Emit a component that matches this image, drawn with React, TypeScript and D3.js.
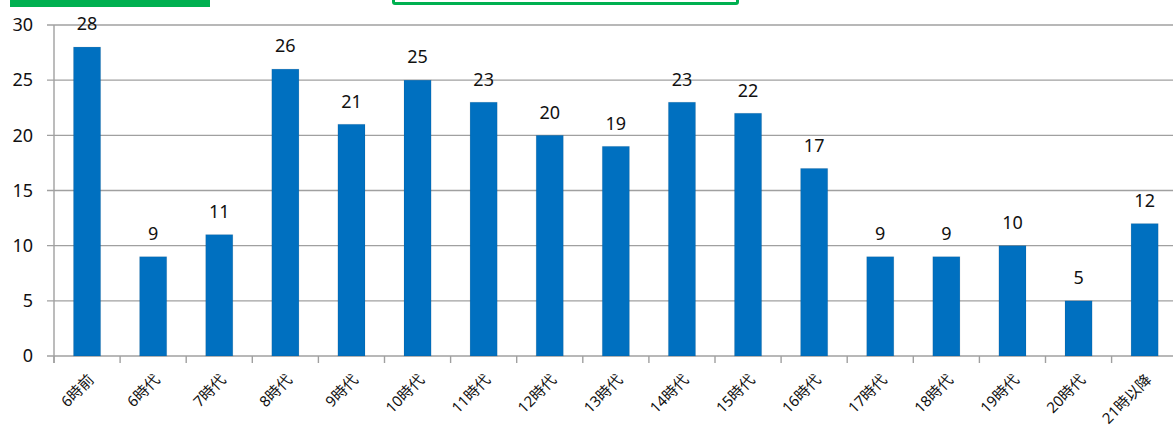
import React, { useEffect, useRef } from 'react';
import * as d3 from 'd3';

const categories = [
  '6時前', '6時代', '7時代', '8時代', '9時代', '10時代', '11時代', '12時代', '13時代',
  '14時代', '15時代', '16時代', '17時代', '18時代', '19時代', '20時代', '21時以降',
];
const values = [28, 9, 11, 26, 21, 25, 23, 20, 19, 23, 22, 17, 9, 9, 10, 5, 12];
const yTicks = [0, 5, 10, 15, 20, 25, 30];

const FONT = '"Noto Sans", "Noto Sans CJK JP", sans-serif';

export default function App() {
  const svgRef = useRef<SVGSVGElement>(null);

  useEffect(() => {
    if (!svgRef.current) return;
    const width = 1173;
    const left = 54;
    const top = 25;
    const bottom = 356;
    const step = 66.1;

    const svg = d3.select(svgRef.current);
    svg.selectAll('*').remove();

    const x = d3.scaleBand<string>()
      .domain(categories)
      .range([left, left + step * categories.length])
      .paddingInner(0.59)
      .paddingOuter(0.295);

    const y = d3.scaleLinear().domain([0, 30]).range([bottom, top]);

    // partial legend/title boxes cut off at top
    svg.append('rect').attr('x', 10).attr('y', -2).attr('width', 200).attr('height', 9).attr('fill', '#00B050');
    svg.append('rect').attr('x', 393.5).attr('y', -10).attr('width', 344).attr('height', 13.5)
      .attr('fill', 'none').attr('stroke', '#00B050').attr('stroke-width', 3).attr('rx', 1.5);

    // gridlines
    svg.append('g').selectAll('line')
      .data(yTicks)
      .enter()
      .append('line')
      .attr('x1', left - 7)
      .attr('x2', width)
      .attr('y1', d => y(d))
      .attr('y2', d => y(d))
      .attr('stroke', '#a0a0a0')
      .attr('stroke-width', 1.4);

    // y axis line
    svg.append('line')
      .attr('x1', left).attr('x2', left)
      .attr('y1', top).attr('y2', bottom + 7)
      .attr('stroke', '#a0a0a0').attr('stroke-width', 1.4);

    // x ticks at category boundaries
    svg.append('g').selectAll('line')
      .data(d3.range(categories.length + 1))
      .enter()
      .append('line')
      .attr('x1', i => left + i * step)
      .attr('x2', i => left + i * step)
      .attr('y1', bottom)
      .attr('y2', bottom + 7)
      .attr('stroke', '#a0a0a0')
      .attr('stroke-width', 1.4);

    // y labels
    svg.append('g').selectAll('text')
      .data(yTicks)
      .enter()
      .append('text')
      .attr('x', 33)
      .attr('y', d => y(d))
      .attr('dy', '0.35em')
      .attr('text-anchor', 'end')
      .attr('font-family', FONT)
      .attr('font-size', 18)
      .attr('fill', '#111')
      .text(d => d);

    // bars
    svg.append('g').selectAll('rect')
      .data(values)
      .enter()
      .append('rect')
      .attr('x', (_, i) => x(categories[i])!)
      .attr('y', d => y(d))
      .attr('width', x.bandwidth())
      .attr('height', d => bottom - y(d))
      .attr('fill', '#0070C0')
      .attr('stroke', 'rgba(0,0,0,0.08)')
      .attr('stroke-width', 1);

    // value labels
    svg.append('g').selectAll('text')
      .data(values)
      .enter()
      .append('text')
      .attr('x', (_, i) => x(categories[i])! + x.bandwidth() / 2)
      .attr('y', d => y(d) - 23)
      .attr('dy', '0.35em')
      .attr('text-anchor', 'middle')
      .attr('font-family', FONT)
      .attr('font-size', 18)
      .attr('fill', '#111')
      .text(d => d);

    // x labels
    svg.append('g').selectAll('text')
      .data(categories)
      .enter()
      .append('text')
      .attr('transform', d => `translate(${x(d)! + x.bandwidth() / 2 + 4},${bottom + 21}) rotate(-45)`)
      .attr('text-anchor', 'end')
      .attr('dy', '0.35em')
      .attr('font-family', FONT)
      .attr('font-size', 15)
      .attr('fill', '#111')
      .text(d => d);
  }, []);

  return (
    <svg
      ref={svgRef}
      width={1173}
      height={430}
      style={{ position: 'absolute', left: 0, top: 0, display: 'block', background: '#fff' }}
    />
  );
}
